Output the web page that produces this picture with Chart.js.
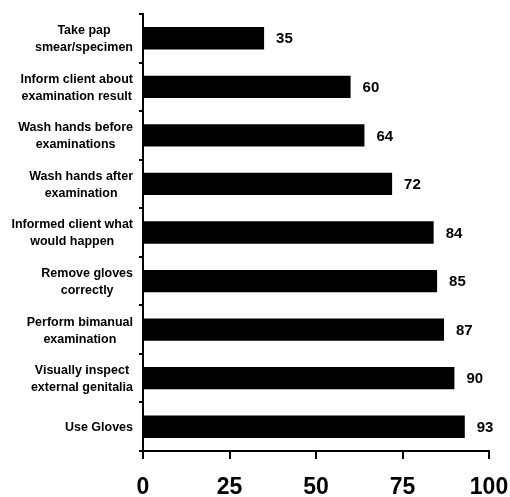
<!DOCTYPE html>
<html>
<head>
<meta charset="utf-8">
<script src="https://cdn.jsdelivr.net/npm/chart.js@4"></script>
<style>
  html, body { margin: 0; padding: 0; background: #fff; }
  #wrap { width: 510px; height: 497px; }
</style>
</head>
<body>
<div id="wrap"><canvas id="chart"></canvas></div>
<script>
const categories = [
  ['Take pap', 'smear/specimen'],
  ['Inform client about', 'examination result'],
  ['Wash hands before', 'examinations'],
  ['Wash hands after', 'examination'],
  ['Informed client what', 'would happen'],
  ['Remove gloves', 'correctly'],
  ['Perform bimanual', 'examination'],
  ['Visually inspect', 'external genitalia'],
  ['Use Gloves']
];
const values = [35, 60, 64, 72, 84, 85, 87, 90, 93];
const xTicks = [0, 25, 50, 75, 100];

const FONT = 'Arial, "Liberation Sans", Helvetica, sans-serif';

// value text just right of each bar
const barValues = {
  id: 'barValues',
  afterDatasetsDraw(chart) {
    const ctx = chart.ctx;
    const meta = chart.getDatasetMeta(0);
    ctx.save();
    ctx.font = 'bold 15px ' + FONT;
    ctx.fillStyle = '#000';
    ctx.textAlign = 'left';
    ctx.textBaseline = 'middle';
    meta.data.forEach((bar, i) => {
      ctx.fillText(String(values[i]), bar.x + 12, bar.y + 1);
    });
    ctx.restore();
  }
};

// category labels: block right-aligned to the axis, lines centred inside the block
const catLabels = {
  id: 'catLabels',
  afterDraw(chart) {
    const ctx = chart.ctx;
    const y = chart.scales.y;
    const right = y.right - 10;
    const lh = 17;
    ctx.save();
    ctx.font = 'bold 12.5px ' + FONT;
    ctx.fillStyle = '#000';
    ctx.textAlign = 'center';
    ctx.textBaseline = 'middle';
    categories.forEach((lines, i) => {
      const w = Math.max(...lines.map(s => ctx.measureText(s).width));
      const cx = right - w / 2;
      const cy = y.getPixelForValue(i) + 1;
      const top = cy - (lines.length - 1) * lh / 2;
      lines.forEach((s, k) => ctx.fillText(s, cx, top + k * lh));
    });
    ctx.restore();
  }
};

new Chart(document.getElementById('chart'), {
  type: 'bar',
  data: {
    labels: categories,
    datasets: [{
      data: values,
      backgroundColor: '#000',
      borderWidth: 0,
      barPercentage: 0.46,
      categoryPercentage: 1
    }]
  },
  options: {
    indexAxis: 'y',
    responsive: true,
    maintainAspectRatio: false,
    animation: false,
    layout: { padding: { top: 14, right: 21, left: 0, bottom: 0 } },
    plugins: {
      legend: { display: false },
      tooltip: { enabled: false }
    },
    scales: {
      x: {
        min: 0,
        max: 100,
        afterBuildTicks(axis) {
          axis.ticks = xTicks.map(v => ({ value: v }));
        },
        afterFit(axis) {
          axis.height = 46;
          axis.paddingLeft = 0;
          axis.paddingRight = 0;
        },
        border: { color: '#000', width: 2 },
        grid: {
          drawOnChartArea: false,
          color: '#000',
          lineWidth: 2,
          tickLength: 8
        },
        ticks: {
          color: '#000',
          padding: 15,
          maxRotation: 0,
          font: { family: FONT, size: 23, weight: 'bold' }
        }
      },
      y: {
        afterFit(axis) { axis.width = 143; },
        border: { color: '#000', width: 2 },
        grid: {
          drawOnChartArea: false,
          offset: true,
          color: '#000',
          lineWidth: 2,
          tickLength: 4
        },
        ticks: { display: false }
      }
    }
  },
  plugins: [barValues, catLabels]
});
</script>
</body>
</html>
